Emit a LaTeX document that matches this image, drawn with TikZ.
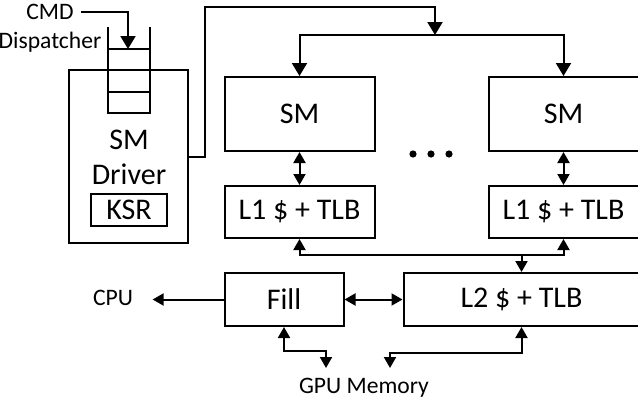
\documentclass[tikz,border=0pt]{standalone}
\usepackage{fontspec}
\setmainfont{Carlito}
\usetikzlibrary{arrows.meta,positioning,calc}

\begin{document}
\begin{tikzpicture}[
  x=0.5pt, y=-0.5pt,
  line width=1pt,
  font=\fontsize{15}{17.5}\selectfont,
  blk/.style={draw, align=center, inner sep=0pt},
  lbl/.style={font=\fontsize{11.8}{14}\selectfont},
  big/.style={-{Triangle[width=7.5pt,length=6.5pt]}},
  arr/.style={-{Triangle[width=6pt,length=5.5pt]}},
  dbl/.style={{Triangle[width=6pt,length=5.5pt]}-{Triangle[width=6pt,length=5.5pt]}},
]
\useasboundingbox (0,0) rectangle (638,402);

% SM columns
\node[blk, minimum width=75pt, minimum height=37pt] (sm1) at (299.5,114) {SM};
\node[blk, minimum width=75pt, minimum height=37pt, right=56pt of sm1] (sm2) {SM};
\node[blk, minimum width=75pt, minimum height=26pt, below=16.5pt of sm1] (l1a) {L1 \$ + TLB};
\node[blk, minimum width=75pt, minimum height=26pt, below=16.5pt of sm2] (l1b) {L1 \$ + TLB};
\node[blk, minimum width=59.5pt, minimum height=26.5pt, anchor=north west] (fill) at ([yshift=-16.5pt]l1a.south west) {Fill};
\node[blk, minimum width=118pt, minimum height=26.5pt, right=29pt of fill] (l2) {L2 \$ + TLB};
\foreach \x in {413,431,449} \fill (\x,154) circle (1.8pt);

% driver and queue
\node[blk, minimum width=59.5pt, minimum height=86.5pt] (drv) at (128.5,156.5) {};
\node[align=center] (drvtxt) at (129,157.5) {SM\\Driver};
\node[blk, minimum width=38pt, minimum height=16pt] (ksr) at (129,210) {KSR};
\draw (108,27) -- (108,113) -- (150,113) -- (150,27);
\draw (108,49) -- (150,49);
\draw (108,92) -- (150,92);

% labels
\node[lbl] (cmd) at (50,12) {CMD};
\node[lbl] (disp) at (50,42) {Dispatcher};
\node[lbl] (cpu) at (113,298) {CPU};
\node[lbl] (mem) at (364,388) {GPU Memory};

\coordinate (qin) at (128,49);
\coordinate (split) at (435,35);
\coordinate (l2bus) at ([yshift=8.5pt]l2.north);
\coordinate (memL) at (326,368);
\coordinate (memR) at (390,368);

\draw[big] (cmd.east) -| (qin);
\draw[big] (drv.east) -- ++(8pt,0) |- ([yshift=14pt]split) -- (split);
\draw[big] (split) -| (sm1);
\draw[big] (split) -| (sm2);
\draw[dbl] (sm1) -- (l1a);
\draw[dbl] (sm2) -- (l1b);
\draw[arr] (l2bus) -| (l1a);
\draw[arr] (l2bus) -| (l1b);
\draw[arr] (l2bus) -- (l2);
\draw[dbl] (fill) -- (l2);
\draw[arr, shorten >=6pt] (fill.west) -- (fill.west -| cpu.east);
\draw[dbl] (fill.south) -- ++(0,-12pt) -| (memL);
\draw[dbl] (l2.south) -- ++(0,-13pt) -| (memR);
\end{tikzpicture}
\end{document}
